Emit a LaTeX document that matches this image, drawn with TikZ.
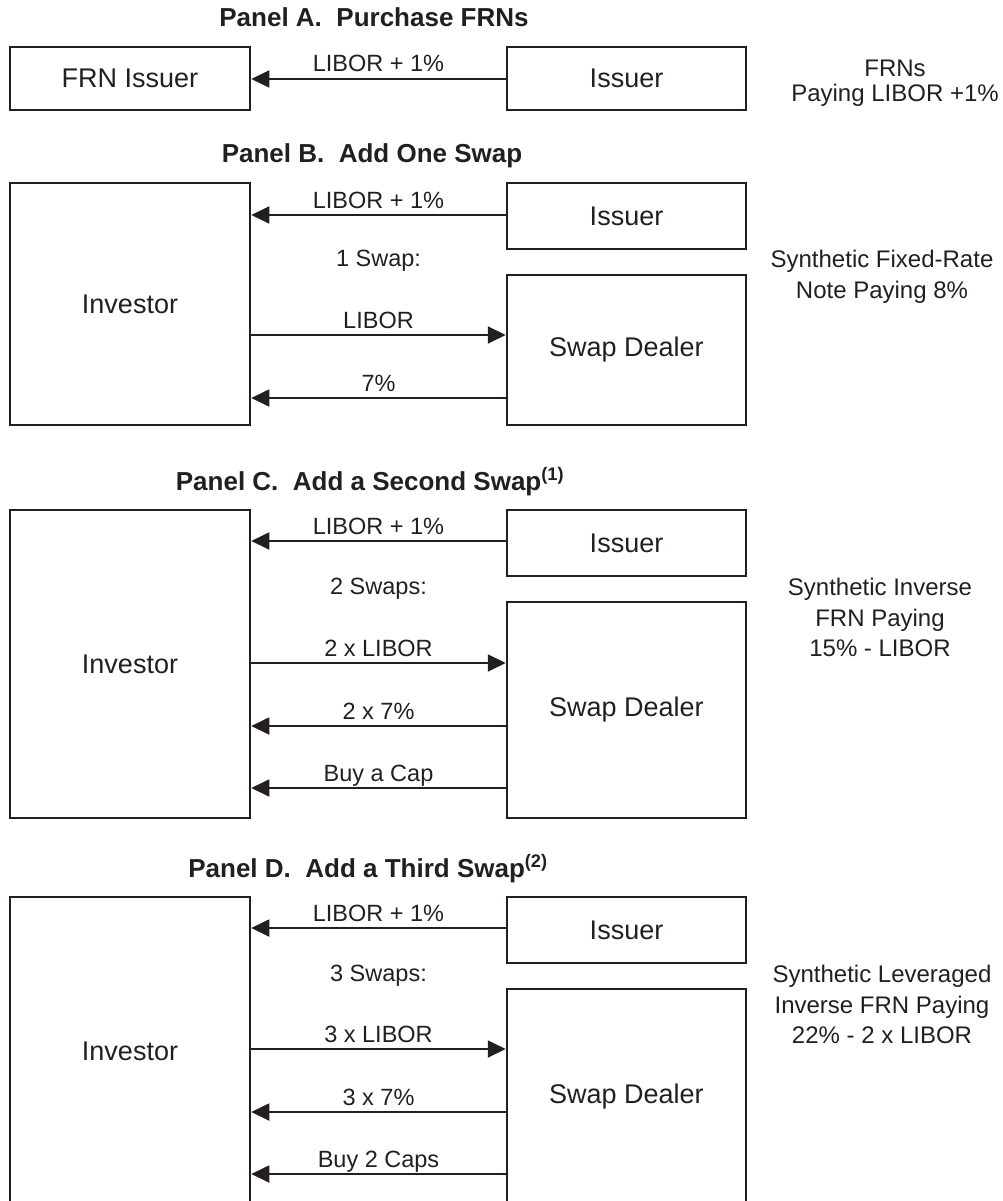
\documentclass[tikz,border=0pt]{standalone}
\usepackage{fontspec}
\setmainfont{Liberation Sans}
\usetikzlibrary{arrows.meta}
\definecolor{ink}{RGB}{35,31,32}
\begin{document}
\begin{tikzpicture}[x=1pt,y=-1pt,
  box/.style={draw=ink, line width=2.5pt, inner sep=0pt, text=ink,
    font=\fontsize{27}{32}\selectfont},
  leftbox/.style={box, minimum width=240pt},
  rightbox/.style={box, minimum width=239pt},
  pay/.style={draw=ink, line width=1.8pt, -{Triangle[length=18pt,width=17pt]}},
  lbl/.style={font=\fontsize{23.5}{28}\selectfont, text=ink, inner sep=0pt, anchor=base},
  paneltitle/.style={font=\bfseries\fontsize{26}{30}\selectfont, text=ink, inner sep=0pt, anchor=base},
  result/.style={font=\fontsize{24}{30.5}\selectfont, text=ink, inner sep=0pt, anchor=north, align=center},
]
\useasboundingbox (0,0) rectangle (1003,1201);
\clip (0,0) rectangle (1003,1201);

% ---------- Panel A ----------
\node[paneltitle] (tA) at (374,27) {Panel A.\ \ Purchase FRNs};
\node[leftbox, minimum height=63pt] (frn) at (130,78.5) {FRN Issuer};
\node[rightbox, minimum height=63pt] (issA) at (626.5,78.5) {Issuer};
\coordinate (a1) at (0,79);
\draw[pay] (issA.west |- a1) -- (frn.east |- a1) node[lbl, midway, yshift=7pt] {LIBOR + 1\%};
\node[result, font=\fontsize{24}{25}\selectfont] (rA) at (895,60) {FRNs\\Paying LIBOR +1\%};

% ---------- Panel B ----------
\node[paneltitle] (tB) at (372,163) {Panel B.\ \ Add One Swap};
\node[leftbox, minimum height=242pt] (invB) at (130,304) {Investor};
\node[rightbox, minimum height=66pt] (issB) at (626.5,216) {Issuer};
\node[rightbox, minimum height=150pt] (dlrB) at (626.5,350) {Swap Dealer};
\coordinate (b1) at (0,215);
\coordinate (b2) at (0,335);
\coordinate (b3) at (0,398);
\draw[pay] (issB.west |- b1) -- (invB.east |- b1) node[lbl, midway, yshift=7pt] {LIBOR + 1\%};
\node[lbl] (sB) at (378.5,266) {1 Swap:};
\draw[pay] (invB.east |- b2) -- (dlrB.west |- b2) node[lbl, midway, yshift=7pt] {LIBOR};
\draw[pay] (dlrB.west |- b3) -- (invB.east |- b3) node[lbl, midway, yshift=7pt] {7\%};
\node[result] (rB) at (882,250) {Synthetic Fixed-Rate\\Note Paying 8\%};

% ---------- Panel C ----------
\node[paneltitle] (tC) at (370,490) {Panel C.\ \ Add a Second Swap\textsuperscript{(1)}};
\node[leftbox, minimum height=308pt] (invC) at (130,664) {Investor};
\node[rightbox, minimum height=66pt] (issC) at (626.5,543) {Issuer};
\node[rightbox, minimum height=216pt] (dlrC) at (626.5,710) {Swap Dealer};
\coordinate (c1) at (0,541);
\coordinate (c2) at (0,663);
\coordinate (c3) at (0,726);
\coordinate (c4) at (0,788);
\draw[pay] (issC.west |- c1) -- (invC.east |- c1) node[lbl, midway, yshift=7pt] {LIBOR + 1\%};
\node[lbl] (sC) at (378.5,594) {2 Swaps:};
\draw[pay] (invC.east |- c2) -- (dlrC.west |- c2) node[lbl, midway, yshift=7pt] {2 x LIBOR};
\draw[pay] (dlrC.west |- c3) -- (invC.east |- c3) node[lbl, midway, yshift=7pt] {2 x 7\%};
\draw[pay] (dlrC.west |- c4) -- (invC.east |- c4) node[lbl, midway, yshift=7pt] {Buy a Cap};
\node[result] (rC) at (880,578) {Synthetic Inverse\\FRN Paying\\15\% - LIBOR};

% ---------- Panel D ----------
\node[paneltitle] (tD) at (368,877) {Panel D.\ \ Add a Third Swap\textsuperscript{(2)}};
\node[leftbox, minimum height=308pt] (invD) at (130,1051) {Investor};
\node[rightbox, minimum height=66pt] (issD) at (626.5,930) {Issuer};
\node[rightbox, minimum height=216pt] (dlrD) at (626.5,1097) {Swap Dealer};
\coordinate (d1) at (0,928);
\coordinate (d2) at (0,1049);
\coordinate (d3) at (0,1112);
\coordinate (d4) at (0,1174);
\draw[pay] (issD.west |- d1) -- (invD.east |- d1) node[lbl, midway, yshift=7pt] {LIBOR + 1\%};
\node[lbl] (sD) at (378.5,981) {3 Swaps:};
\draw[pay] (invD.east |- d2) -- (dlrD.west |- d2) node[lbl, midway, yshift=7pt] {3 x LIBOR};
\draw[pay] (dlrD.west |- d3) -- (invD.east |- d3) node[lbl, midway, yshift=7pt] {3 x 7\%};
\draw[pay] (dlrD.west |- d4) -- (invD.east |- d4) node[lbl, midway, yshift=7pt] {Buy 2 Caps};
\node[result] (rD) at (882,965) {Synthetic Leveraged\\Inverse FRN Paying\\22\% - 2 x LIBOR};
\end{tikzpicture}
\end{document}
